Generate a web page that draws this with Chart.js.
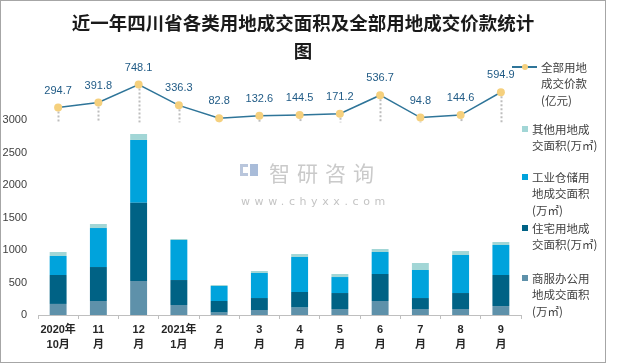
<!DOCTYPE html>
<html><head><meta charset="utf-8">
<script src="https://cdn.jsdelivr.net/npm/chart.js@4.4.1/dist/chart.umd.min.js"></script>
<style>
body{margin:0;background:#fff;}
#wrap{position:relative;width:620px;height:363px;overflow:hidden;background:#fff;}
#c{position:absolute;left:0;top:0;}
.frame{position:absolute;left:0;top:0;width:606px;height:363px;box-sizing:border-box;border:1px solid #a6a6a6;pointer-events:none;}
.title{position:absolute;left:0;top:8px;width:606px;text-align:center;font:bold 18.5px "Noto Sans CJK SC",sans-serif;line-height:28px;color:#1a1a1a;}
.lg{position:absolute;left:532px;font:11.5px "Noto Sans CJK SC",sans-serif;line-height:16.5px;color:#404040;white-space:nowrap;}
.sq{position:absolute;left:522px;width:6px;height:6px;}
.wm1{position:absolute;left:269px;top:157px;font:21px "Noto Sans CJK SC",sans-serif;letter-spacing:7px;color:#cacaca;}
.wm2{position:absolute;left:241px;top:195px;font:11px "DejaVu Sans",sans-serif;letter-spacing:4.6px;color:#c4c4c4;}
</style></head>
<body>
<div id="wrap">
<canvas id="c" width="620" height="363"></canvas>
<div class="wm1">智研咨询</div>
<div class="wm2">www.chyxx.com</div>
<div style="position:absolute;left:240px;top:164px;width:8px;height:12px;border:3px solid #b9c6dc;border-right:none;box-sizing:border-box;"></div>
<div style="position:absolute;left:250px;top:164px;width:8px;height:12px;background:#a9bcd9;"></div>
<div class="title">近一年四川省各类用地成交面积及全部用地成交价款统计<br>图</div>
<div style="position:absolute;left:512px;top:66px;width:25px;height:1.5px;background:#2f7599;"></div>
<div style="position:absolute;left:521.5px;top:64px;width:6px;height:6px;border-radius:50%;background:#f5d07d;"></div>
<div class="lg" style="left:541px;top:58.75px;">全部用地<br>成交价款<br>(亿元)</div>
<div class="sq" style="top:126px;background:#a2d6d6;"></div>
<div class="lg" style="top:120.75px;">其他用地成<br>交面积(万㎡)</div>
<div class="sq" style="top:174px;background:#00a3dc;"></div>
<div class="lg" style="top:168.75px;">工业仓储用<br>地成交面积<br>(万㎡)</div>
<div class="sq" style="top:225px;background:#006285;"></div>
<div class="lg" style="top:219.75px;">住宅用地成<br>交面积(万㎡)</div>
<div class="sq" style="top:275px;background:#5e91aa;"></div>
<div class="lg" style="top:269.75px;">商服办公用<br>地成交面积<br>(万㎡)</div>
<div class="frame"></div>
</div>
<script>
const categories = [["2020年","10月"],["11","月"],["12","月"],["2021年","1月"],["2","月"],["3","月"],["4","月"],["5","月"],["6","月"],["7","月"],["8","月"],["9","月"]];
const commercial = [170,215,523,154,36,77,113,92,215,92,92,138];
const residential = [445,523,1205,384,179,184,241,246,416,169,246,477];
const industrial = [293,600,965,616,231,385,538,246,338,431,585,462];
const other = [61,62,92,15,15,31,46,47,46,108,61,46];
const price = [294.7,391.8,748.1,336.3,82.8,132.6,144.5,171.2,536.7,94.8,144.6,594.9];
const yTicks = [0,500,1000,1500,2000,2500,3000];

const dropLines = {
  id:'dropLines',
  beforeDatasetsDraw(chart){
    const ctx = chart.ctx, meta = chart.getDatasetMeta(0), y1 = chart.scales.y1;
    const base = y1.getPixelForValue(0);
    ctx.save();
    ctx.strokeStyle = '#bdbdbd'; ctx.lineWidth = 2; ctx.setLineDash([2,2]);
    meta.data.forEach(p => {
      ctx.beginPath(); ctx.moveTo(Math.round(p.x)+0.5, p.y); ctx.lineTo(Math.round(p.x)+0.5, base); ctx.stroke();
    });
    ctx.restore();
  },
  afterDatasetsDraw(chart){
    const ctx = chart.ctx, meta = chart.getDatasetMeta(0);
    ctx.save();
    ctx.font = '11px "Liberation Sans", sans-serif';
    ctx.fillStyle = '#1f5a85'; ctx.textAlign = 'center'; ctx.textBaseline = 'middle';
    meta.data.forEach((p,i) => { ctx.fillText(price[i].toFixed(1), p.x, p.y - 17); });
    ctx.restore();
  }
};

new Chart(document.getElementById('c'), {
  type:'bar',
  data:{
    labels: categories,
    datasets:[
      {type:'line', label:'全部用地成交价款(亿元)', data:price, yAxisID:'y1', order:0,
       borderColor:'#2f7599', borderWidth:1.5, pointRadius:4, pointHoverRadius:4,
       pointBackgroundColor:'#f5d07d', pointBorderColor:'#f5d07d', pointBorderWidth:0, tension:0, fill:false},
      {label:'商服办公用地成交面积(万㎡)', data:commercial, backgroundColor:'#5e91aa', stack:'s', order:1},
      {label:'住宅用地成交面积(万㎡)', data:residential, backgroundColor:'#006285', stack:'s', order:1},
      {label:'工业仓储用地成交面积(万㎡)', data:industrial, backgroundColor:'#00a3dc', stack:'s', order:1},
      {label:'其他用地成交面积(万㎡)', data:other, backgroundColor:'#a2d6d6', stack:'s', order:1}
    ]
  },
  options:{
    responsive:false, animation:false, devicePixelRatio:1,
    layout:{padding:{left:0, top:55, right:99, bottom:0}},
    plugins:{legend:{display:false}, title:{display:false}, tooltip:{enabled:false}},
    datasets:{bar:{categoryPercentage:1, barPercentage:0.42}},
    scales:{
      x:{stacked:true,
         grid:{offset:true, drawOnChartArea:false, tickLength:4, color:'#bfbfbf'},
         border:{color:'#bfbfbf'},
         ticks:{font:{family:'"Liberation Sans","Noto Sans CJK SC",sans-serif', size:11, weight:'bold', lineHeight:1.35}, color:'#262626', padding:4, maxRotation:0, autoSkip:false},
         afterFit(s){ s.height = 48; }},
      y:{stacked:true, min:0, max:4000,
         grid:{display:false, drawTicks:false}, border:{display:false},
         ticks:{font:{family:'"Liberation Sans",sans-serif', size:11}, color:'#404040', padding:11,
                callback:(v)=>String(v)},
         afterBuildTicks(s){ s.ticks = yTicks.map(v => ({value:v})); },
         afterFit(s){ s.width = 38; }},
      y1:{display:false, min:-3800, max:1330}
    }
  },
  plugins:[dropLines]
});
</script>
</body></html>
